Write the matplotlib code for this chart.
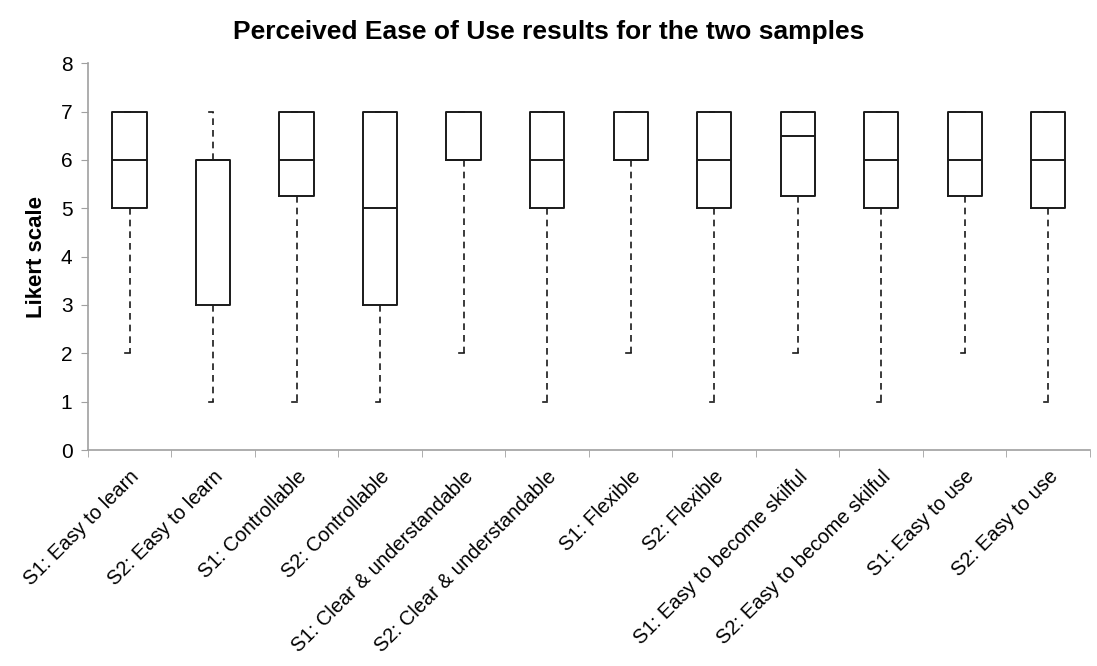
import matplotlib.pyplot as plt
import numpy as np

plt.rcParams['font.family'] = ['Liberation Sans', 'DejaVu Sans']

# five-number summaries
labels = ["S1: Easy to learn", "S2: Easy to learn", "S1: Controllable", "S2: Controllable",
          "S1: Clear & understandable", "S2: Clear & understandable", "S1: Flexible", "S2: Flexible",
          "S1: Easy to become skilful", "S2: Easy to become skilful", "S1: Easy to use", "S2: Easy to use"]
mins = [2, 1, 1, 1, 2, 1, 2, 1, 2, 1, 2, 1]
q1s = [5, 3, 5.25, 3, 6, 5, 6, 5, 5.25, 5, 5.25, 5]
medians = [6, 6, 6, 5, 6, 6, 6, 6, 6.5, 6, 6, 6]
q3s = [7, 6, 7, 7, 7, 7, 7, 7, 7, 7, 7, 7]
maxs = [7, 7, 7, 7, 7, 7, 7, 7, 7, 7, 7, 7]

stats = []
for i in range(len(labels)):
    stats.append({"whislo": mins[i], "q1": q1s[i], "med": medians[i],
                  "q3": q3s[i], "whishi": maxs[i], "label": labels[i]})

fig = plt.figure(figsize=(10.97, 6.66), dpi=100)
ax = fig.add_axes([0.080, 0.3243, 0.9136, 0.5807])

pos = np.arange(len(labels)) + 0.5
bp = ax.bxp(stats, positions=pos, widths=0.41, showfliers=False, manage_ticks=False,
            boxprops=dict(color='#1a1a1a', linewidth=1.4),
            medianprops=dict(color='#1a1a1a', linewidth=1.4),
            whiskerprops=dict(color='#1a1a1a', linewidth=1.2, linestyle=(0, (4, 3))),
            capprops=dict(color='#1a1a1a', linewidth=1.2),
            capwidths=0.1)

# excel-style caps: only the left half of the tick
for cap in bp['caps']:
    xd = cap.get_xdata()
    cap.set_xdata([xd[0], (xd[0] + xd[1]) / 2])

ax.set_xlim(0, len(labels))
ax.set_ylim(0, 8)
ax.set_yticks(range(0, 9))
ax.tick_params(axis='y', labelsize=15, length=5, color='#a0a0a0', pad=6)

ax.set_xticks(pos)
ax.set_xticklabels(labels, rotation=45, ha='right', rotation_mode='anchor', fontsize=14.5)
ax.tick_params(axis='x', length=0, pad=12)
ax.set_xticks(np.arange(0, len(labels) + 1), minor=True)
ax.tick_params(axis='x', which='minor', length=5, color='#a0a0a0')

for s in ['top', 'right']:
    ax.spines[s].set_visible(False)
for s in ['left', 'bottom']:
    ax.spines[s].set_color('#a0a0a0')
    ax.spines[s].set_linewidth(1.2)

ax.set_ylabel("Likert scale", fontsize=16, fontweight='bold', labelpad=10)
fig.suptitle("Perceived Ease of Use results for the two samples", fontsize=19,
             fontweight='bold', y=0.97)

fig.savefig("out.png", dpi=100)
